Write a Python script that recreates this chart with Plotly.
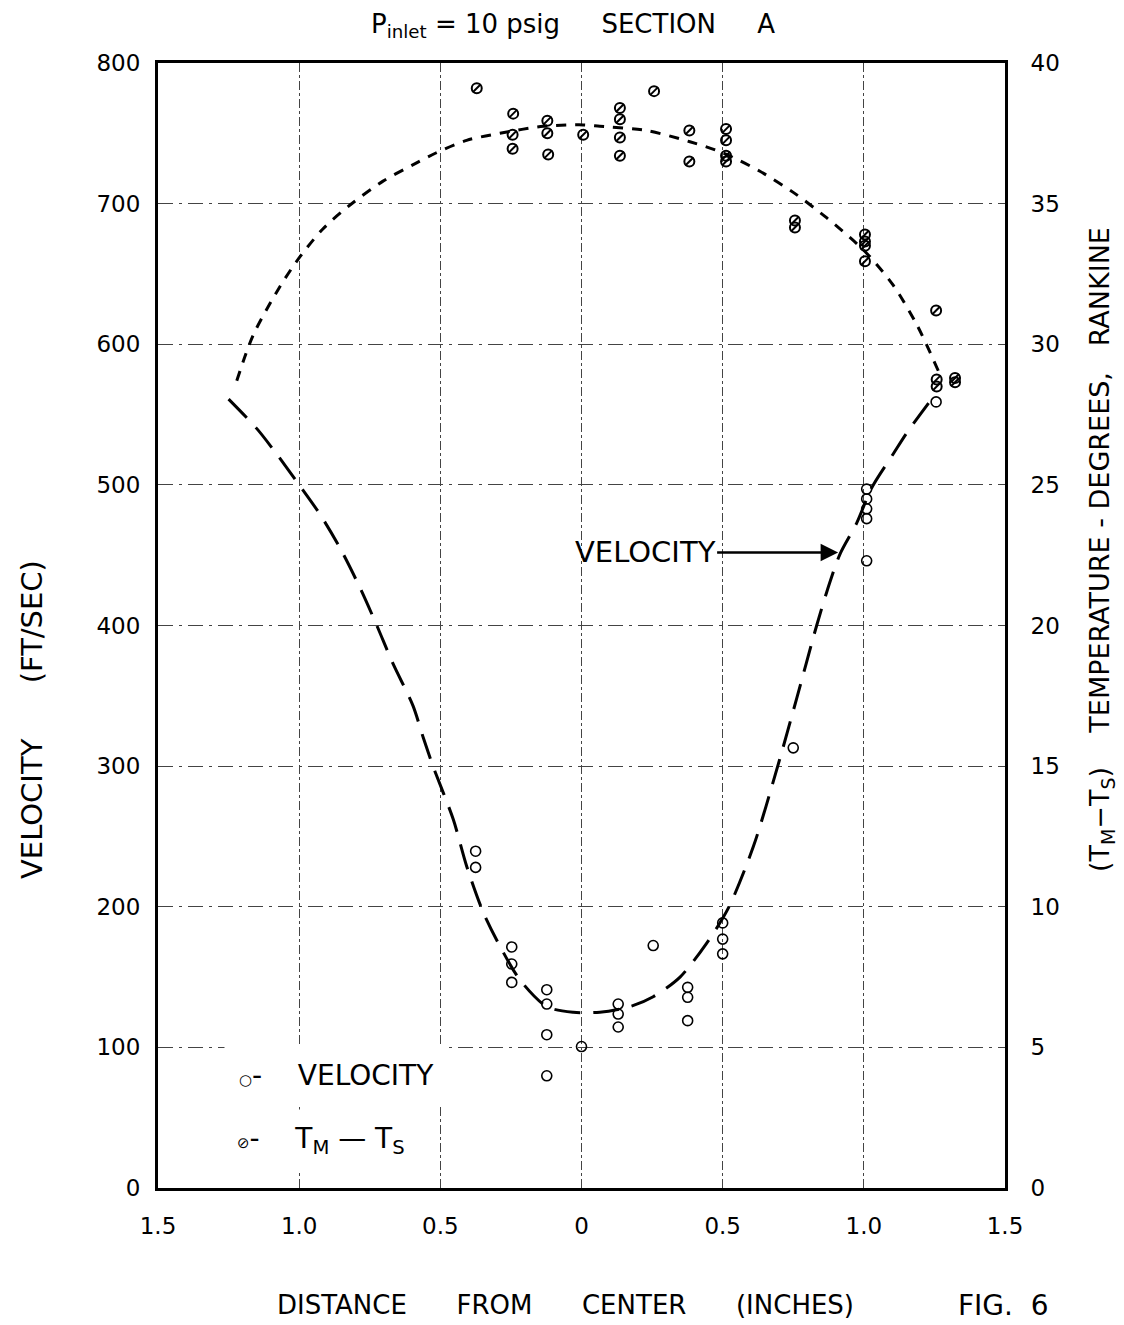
import plotly.graph_objects as go

# ---- data ----
vel_pts_x = [-0.375, -0.375, -0.247, -0.247, -0.247, -0.123, -0.123, -0.123, -0.123, 0.0,
             0.13, 0.13, 0.13, 0.254, 0.376, 0.376, 0.376, 0.5, 0.5, 0.5, 0.75,
             1.01, 1.01, 1.01, 1.01, 1.01, 1.256]
vel_pts_v = [239.5, 228, 171.4, 159.3, 146.2, 141, 130.8, 109, 79.8, 100.6,
             130.8, 123.7, 114.5, 172.4, 142.7, 135.6, 119, 188.5, 177, 166.5, 313,
             497, 490, 483, 476, 446, 559]

temp_pts_x = [-0.371, -0.242, -0.244, -0.244, -0.121, -0.121, -0.118, 0.006,
              0.136, 0.136, 0.136, 0.136, 0.257, 0.382, 0.382,
              0.512, 0.512, 0.512, 0.512, 0.756, 0.756,
              1.004, 1.004, 1.004, 1.004, 1.256, 1.258, 1.258, 1.323, 1.323]
temp_pts_t = [39.1, 38.2, 37.45, 36.95, 37.95, 37.5, 36.75, 37.45,
              38.4, 38.0, 37.35, 36.7, 39.0, 37.6, 36.5,
              37.65, 37.25, 36.7, 36.5, 34.4, 34.15,
              33.9, 33.65, 33.5, 32.95, 31.2, 28.75, 28.5, 28.8, 28.65]

vel_curve_x = [-1.25, -1.15, -1.08, -1.0, -0.926, -0.855, -0.785, -0.725, -0.668, -0.597,
               -0.56, -0.526, -0.454, -0.407, -0.348, -0.289, -0.218, -0.123, -0.029, 0.065,
               0.172, 0.254, 0.349, 0.443, 0.52, 0.609, 0.695, 0.762, 0.833, 0.88,
               0.916, 0.975, 1.028, 1.104, 1.152, 1.199, 1.24]
vel_curve_v = [561, 540, 522, 500, 479, 455, 427, 400, 373, 343,
               320, 300, 262, 229, 196, 172, 148, 129, 125, 125,
               129, 136, 150, 174, 199, 243, 300, 348, 400, 431,
               451, 473, 498, 522, 537, 550, 561]

temp_curve_x = [-1.221, -1.164, -1.08, -1.009, -0.916, -0.82, -0.703, -0.584, -0.516, -0.407,
                -0.289, -0.135, 0.006, 0.065, 0.23, 0.384, 0.502, 0.632, 0.75, 0.868,
                1.004, 1.104, 1.19, 1.264]
temp_curve_t = [28.7, 30.3, 31.85, 32.95, 34.1, 34.95, 35.8, 36.45, 36.8, 37.25,
                37.5, 37.75, 37.8, 37.75, 37.6, 37.2, 36.8, 36.15, 35.4, 34.5,
                33.3, 32.1, 30.65, 29.05]

x_tickvals = [-1.5, -1.0, -0.5, 0, 0.5, 1.0, 1.5]
x_ticktext = ["1.5", "1.0", "0.5", "0", "0.5", "1.0", "1.5"]
v_ticks = [0, 100, 200, 300, 400, 500, 600, 700, 800]
t_ticks = [0, 5, 10, 15, 20, 25, 30, 35, 40]

# ---- layout geometry (page pixel coordinates) ----
OFF = 8                      # page body margin
W, H = 1124 - OFF, 1325 - OFF
L, R, T, B = 158, 1005, 63, 1188
FONT = "DejaVu Sans"


def px(xp):
    return (xp - L) / (R - L)


def py(yp):
    return (B - yp) / (B - T)


fig = go.Figure()

fig.add_trace(go.Scatter(x=vel_curve_x, y=vel_curve_v, mode="lines",
                         line=dict(color="black", width=3, dash="26px,13px", shape="spline", smoothing=0.8),
                         showlegend=False, hoverinfo="skip"))
fig.add_trace(go.Scatter(x=temp_curve_x, y=temp_curve_t, mode="lines", yaxis="y2",
                         line=dict(color="black", width=3, dash="10px,9px", shape="spline", smoothing=0.8),
                         showlegend=False, hoverinfo="skip"))
fig.add_trace(go.Scatter(x=vel_pts_x, y=vel_pts_v, mode="markers",
                         marker=dict(symbol="circle-open", size=10, color="black",
                                     line=dict(width=1.6, color="black")),
                         showlegend=False))
fig.add_trace(go.Scatter(x=temp_pts_x, y=temp_pts_t, mode="markers", yaxis="y2",
                         marker=dict(symbol="circle-open", size=10, color="black",
                                     line=dict(width=2, color="black")),
                         showlegend=False))
fig.add_trace(go.Scatter(x=temp_pts_x, y=temp_pts_t, mode="markers", yaxis="y2",
                         marker=dict(symbol="line-ne", size=8, color="black",
                                     line=dict(width=2, color="black")),
                         showlegend=False, hoverinfo="skip"))


def ann(xp, yp, text, size, **kw):
    d = dict(x=px(xp), y=py(yp), xref="paper", yref="paper", text=text, showarrow=False,
             xanchor="center", yanchor="middle",
             font=dict(size=size, family=FONT, color="black"))
    d.update(kw)
    return d


annotations = [
    ann(573, 25, "P<sub>inlet</sub> = 10 psig     SECTION     A", 26),
    ann(32, 720, "VELOCITY      (FT/SEC)", 29, textangle=-90),
    ann(1101, 550, "(T<sub>M</sub>−T<sub>S</sub>)    TEMPERATURE - DEGREES,   RANKINE", 27,
        textangle=-90),
    ann(565, 1305, "DISTANCE      FROM      CENTER      (INCHES)", 26),
    ann(1003, 1305, "FIG.  6", 28),
    ann(224, 1075, "<span style='font-size:15px'>○</span>-    VELOCITY", 28,
        xanchor="left", bgcolor="white", borderpad=14),
    ann(224, 1140, "<span style='font-size:15px'>⊘</span>-    T<sub>M</sub> — T<sub>S</sub>", 28,
        xanchor="left", bgcolor="white", borderpad=12),
    dict(x=0.916, y=452, xref="x", yref="y", text="VELOCITY", showarrow=True,
         ax=-195, ay=0, arrowhead=2, arrowsize=1.4, arrowwidth=2.5, arrowcolor="black",
         standoff=2, font=dict(size=29, family=FONT, color="black")),
]

grid_col = "#444444"
fig.update_layout(
    width=W, height=H,
    margin=dict(l=L - OFF, r=W - (R - OFF), t=T - OFF, b=H - (B - OFF), autoexpand=False),
    plot_bgcolor="white", paper_bgcolor="white",
    font=dict(family=FONT, size=22, color="black"),
    showlegend=False,
    annotations=annotations,
    xaxis=dict(range=[-1.5, 1.5], tickvals=x_tickvals, ticktext=x_ticktext,
               showgrid=True, gridcolor=grid_col, gridwidth=1, griddash="dashdot",
               zeroline=False, showline=True, linecolor="black", linewidth=3, mirror=True,
               ticks="outside", ticklen=15, tickcolor="rgba(0,0,0,0)",
               tickfont=dict(size=23, family=FONT)),
    yaxis=dict(range=[0, 800], tickvals=v_ticks,
               showgrid=True, gridcolor=grid_col, gridwidth=1.2, griddash="longdashdot",
               zeroline=False, showline=True, linecolor="black", linewidth=3, mirror=True,
               ticks="outside", ticklen=10, tickcolor="rgba(0,0,0,0)",
               tickfont=dict(size=23, family=FONT)),
    yaxis2=dict(range=[0, 40], tickvals=t_ticks, overlaying="y", side="right",
                showgrid=False, zeroline=False, showline=False,
                ticks="outside", ticklen=20, tickcolor="rgba(0,0,0,0)",
                tickfont=dict(size=23, family=FONT)),
)

fig.write_html("out.html")
